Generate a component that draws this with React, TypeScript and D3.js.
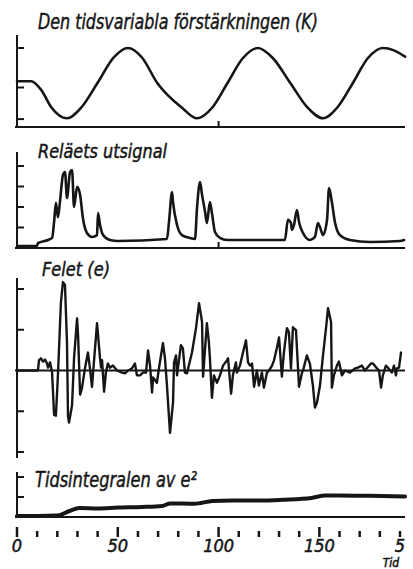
import * as d3 from "d3"
import React from "react"

const W = 413
const H = 569

// time in the units of the x axis, value
const gain: [number, number][] = [
  [0, 0.58], [7, 0.58], [12, 0.47], [17, 0.25], [24.8, 0.11], [32, 0.25],
  [40, 0.56], [48, 0.88], [55, 1.0], [62, 0.88], [69.5, 0.56], [82, 0.24],
  [89.3, 0.11], [97, 0.25], [104.5, 0.56], [112, 0.87], [119.5, 1.0],
  [127, 0.87], [135.5, 0.56], [144, 0.25], [151.8, 0.11], [159, 0.25],
  [166.7, 0.56], [174, 0.87], [181.5, 1.0], [187, 0.97], [192.5, 0.89],
]

const relay: [number, number][] = [
  [0, 0.1], [9.9, 0.1], [10.4, 0.24], [15.4, 0.39], [17.4, 0.49], [18.4, 1.27],
  [19.3, 2.2], [20.3, 1.5], [21.3, 2.24], [22.8, 3.56], [23.8, 3.7], [24.8, 2.44],
  [26.3, 3.7], [27.3, 3.8], [28.3, 2.0], [29.8, 2.98], [31.3, 2.59], [32.7, 1.46],
  [34.7, 0.73], [37.2, 0.54], [39.7, 0.63], [40.2, 1.71], [41.2, 1.12],
  [42.7, 0.63], [46.1, 0.39], [50.1, 0.34], [74.4, 0.44], [75.4, 1.27],
  [76.9, 2.73], [77.4, 2.24], [79.4, 1.12], [81.8, 0.63], [85.8, 0.49],
  [88.3, 0.44], [89.3, 1.95], [90.8, 3.22], [91.8, 2.59], [93.3, 1.76],
  [94.2, 1.22], [95.7, 2.24], [96.7, 1.71], [98.2, 0.78], [100.7, 0.49],
  [104.2, 0.39], [132.9, 0.39], [134.4, 1.37], [135.9, 1.22], [136.4, 0.88],
  [137.4, 1.12], [138.9, 1.85], [139.9, 1.27], [141.9, 0.73], [145.3, 0.39],
  [147.8, 0.54], [149.3, 1.22], [150.3, 1.02], [151.8, 0.63], [153.8, 1.37],
  [154.8, 2.93], [156.2, 2.24], [157.7, 1.27], [160.2, 0.63], [165.2, 0.39],
  [175.1, 0.29], [190, 0.34], [192, 0.39],
]

const error: [number, number][] = [
  [0, 0], [10.4, 0], [10.9, 0.25], [11.9, 0.3], [12.9, 0.22], [13.9, 0.27],
  [14.9, 0.17], [15.4, 0.07], [16.4, 0.2], [17.4, -0.05], [18.4, -1.09],
  [19.3, -1.11], [20.3, -0.12], [21.8, 1.68], [22.8, 2.17], [23.8, 2.1],
  [24.8, 0.69], [25.3, -1.11], [25.8, -1.28], [27.3, -0.86], [28.3, 0.3],
  [29.8, 1.28], [30.3, 0.86], [31.3, -0.59], [32.2, -0.44], [33.7, 0.05],
  [35.2, 0.44], [36.2, 0.05], [37.2, -0.4], [38.7, 0.54], [39.7, 1.16],
  [41.2, 0.3], [41.7, 0.07], [42.2, 0.25], [43.2, -0.52], [44.1, -0.05],
  [45.1, 0.17], [46.1, 0.07], [47.6, 0.12], [49.6, 0], [52.1, -0.05],
  [53.6, -0.07], [55.1, 0], [57, 0.05], [58.5, 0.17], [59.5, -0.12], [61, -0.12],
  [62.5, -0.05], [64, -0.05], [65, 0.49], [66, 0.12], [67, -0.54], [67.5, -0.17],
  [69.4, -0.3], [70.4, 0.05], [72.4, 0.67], [73.4, 0.3], [74.4, -0.37],
  [75.9, -1.53], [77.4, -0.79], [77.9, 0.2], [78.9, 0.37], [79.4, -0.12],
  [81.3, 0.62], [82.3, 0.54], [83.3, -0.05], [84.3, -0.07], [86.8, 0.44],
  [88.8, 1.04], [90.3, 1.65], [91.8, 1.19], [92.3, -0.15], [94.2, 1.16],
  [95.2, 0.69], [95.7, 0.3], [96.7, -0.67], [97.7, -0.12], [99.2, -0.3],
  [100.7, -0.12], [102.2, 0.12], [104.2, 0.25], [104.7, 0.3], [106.2, -0.57],
  [107.1, -0.12], [108.6, 0.2], [109.1, -0.05], [110.6, 0.12], [112.1, 0.44],
  [113.6, 0.74], [114.6, 0.2], [115.6, 0.12], [116.6, 0.17], [117.6, -0.4],
  [119, 0], [120, -0.37], [121.5, -0.05], [122.5, -0.42], [124, -0.05],
  [125, 0], [126.5, 0.12], [127.5, 0.25], [129, 0.57], [130, 0.81],
  [131.4, -0.15], [132.4, 0.44], [133.9, 1.04], [134.9, 0.94], [135.9, 0.05],
  [136.9, 1.06], [138.4, 0.99], [139.9, -0.4], [141.4, -0.05], [141.9, 0],
  [143.8, 0.37], [145.3, 0.17], [146.8, -0.37], [147.8, -0.91], [148.8, -0.79],
  [150.3, -0.37], [151.8, 0.37], [153.3, 1.04], [154.3, 1.53], [155.8, 1.19],
  [156.2, -0.42], [157.2, -0.12], [158.7, 0.12], [159.7, 0.22], [161.2, -0.12],
  [162.7, 0], [165.2, -0.05], [167.7, 0.05], [169.1, 0.07], [171.1, 0.12],
  [172.6, 0], [175.6, 0.17], [176.6, 0.17], [178.6, 0.05], [179.6, 0],
  [180.6, -0.42], [181.5, -0.12], [183, 0.12], [184, 0.07], [186, -0.05],
  [187, 0.12], [188, -0.12], [188.5, 0.05], [189.5, 0.07], [190.5, 0.44],
]

const integral: [number, number][] = [
  [0, 0.05], [10, 0.05], [20, 0.07], [26, 0.3], [31, 0.45], [40, 0.43],
  [50, 0.47], [62, 0.5], [72, 0.55], [76, 0.68], [88, 0.66], [97, 0.8],
  [107, 0.82], [121, 0.82], [132, 0.86], [146, 0.95], [153, 1.08], [160, 1.07],
  [175, 1.06], [192.5, 1.03],
]

const titles = [
  "Den tidsvariabla förstärkningen (K)",
  "Reläets utsignal",
  "Felet (e)",
  "Tidsintegralen av e²",
]

const xMinorTicks = d3.range(0, 191, 10)
const xMajorTicks = [0, 50, 100, 150]
const xLabelAt = [0, 50, 100, 150, 190]
const xLabels = ["0", "50", "100", "150", "5"]
const xUnit = "Tid"

const gainTicks = [0.1, 0.5, 1.0]
const relayTicks = [1, 2, 3, 4]
const errorTicks = [-2, -1, 1, 2]
const integralTicks = [1, 2]

const FONT = "'Liberation Sans Narrow', 'DejaVu Sans Condensed', 'Open Sans', sans-serif"
const INK = "#161616"

const App = () => {
  const x = d3.scaleLinear().domain([0, 190]).range([17, 400])
  const xEnd = 192.5

  const panels = [
    {
      y: d3.scaleLinear().domain([0, 1]).range([127, 48]),
      data: gain, ticks: gainTicks, axis: [0, 1.165], base: 0,
      curve: d3.curveMonotoneX, width: 2.6, mark100: true,
      title: titles[0], tx: 38, ty: 29, tlen: 280, fs: 21,
    },
    {
      y: d3.scaleLinear().domain([0, 4]).range([248, 166]),
      data: relay, ticks: relayTicks, axis: [0, 4.68], base: 0,
      curve: d3.curveMonotoneX, width: 2.6, mark100: true,
      title: titles[1], tx: 38, ty: 158, tlen: 129, fs: 19,
    },
    {
      y: d3.scaleLinear().domain([-2, 2]).range([452, 289]),
      data: error, ticks: errorTicks, axis: [-2.15, 2.27], base: 0,
      curve: d3.curveLinear, width: 2.4, mark100: false,
      title: titles[2], tx: 42, ty: 276, tlen: 68, fs: 19,
    },
    {
      y: d3.scaleLinear().domain([0, 2]).range([517, 477]),
      data: integral, ticks: integralTicks, axis: [0, 2.25], base: 0,
      curve: d3.curveMonotoneX, width: 4, mark100: false,
      title: titles[3], tx: 35, ty: 487, tlen: 162, fs: 21,
    },
  ]

  return (
    <svg
      width={W}
      height={H}
      viewBox={`0 0 ${W} ${H}`}
      style={{ position: "absolute", left: 0, top: 0, background: "#fff" }}
    >
      <rect width={W} height={H} fill="#fff" />
      {panels.map((p, i) => {
        const line = d3
          .line<[number, number]>()
          .x((d) => x(d[0]))
          .y((d) => p.y(d[1]))
          .curve(p.curve)
        return (
          <g key={i} stroke={INK} fill="none">
            <line x1={x(0)} x2={x(0)} y1={p.y(p.axis[0])} y2={p.y(p.axis[1])} strokeWidth={2} />
            {p.ticks.map((t) => (
              <line key={t} x1={x(0)} x2={x(0) + 7} y1={p.y(t)} y2={p.y(t)} strokeWidth={2} />
            ))}
            <line x1={x(0) - 2} x2={x(xEnd)} y1={p.y(p.base)} y2={p.y(p.base)} strokeWidth={1.8} />
            {p.mark100 && (
              <line x1={x(100)} x2={x(100)} y1={p.y(p.base)} y2={p.y(p.base) - 6} strokeWidth={2} />
            )}
            <path d={line(p.data) || ""} strokeWidth={p.width} strokeLinejoin="round" strokeLinecap="round" />
            <text
              x={p.tx}
              y={p.ty}
              fontSize={p.fs}
              fontStyle="italic"
              fontFamily={FONT}
              fill={INK}
              stroke={INK}
              strokeWidth={0.45}
              textLength={p.tlen}
              lengthAdjust="spacingAndGlyphs"
            >
              {p.title}
            </text>
          </g>
        )
      })}
      <g stroke={INK} strokeWidth={2.5}>
        {xMinorTicks.map((t) => {
          const major = xMajorTicks.includes(t)
          return <line key={t} x1={x(t)} x2={x(t)} y1={major ? 527 : 531} y2={537} />
        })}
      </g>
      <g
        fontFamily={FONT}
        fontStyle="italic"
        fontSize={18}
        fill={INK}
        stroke={INK}
        strokeWidth={0.5}
        textAnchor="middle"
      >
        {xLabels.map((l, i) => (
          <text key={l} x={x(xLabelAt[i])} y={552}>
            {l}
          </text>
        ))}
        <text x={x(xLabelAt[4]) - 9} y={567} fontSize={12}>
          {xUnit}
        </text>
      </g>
    </svg>
  )
}

export default App
